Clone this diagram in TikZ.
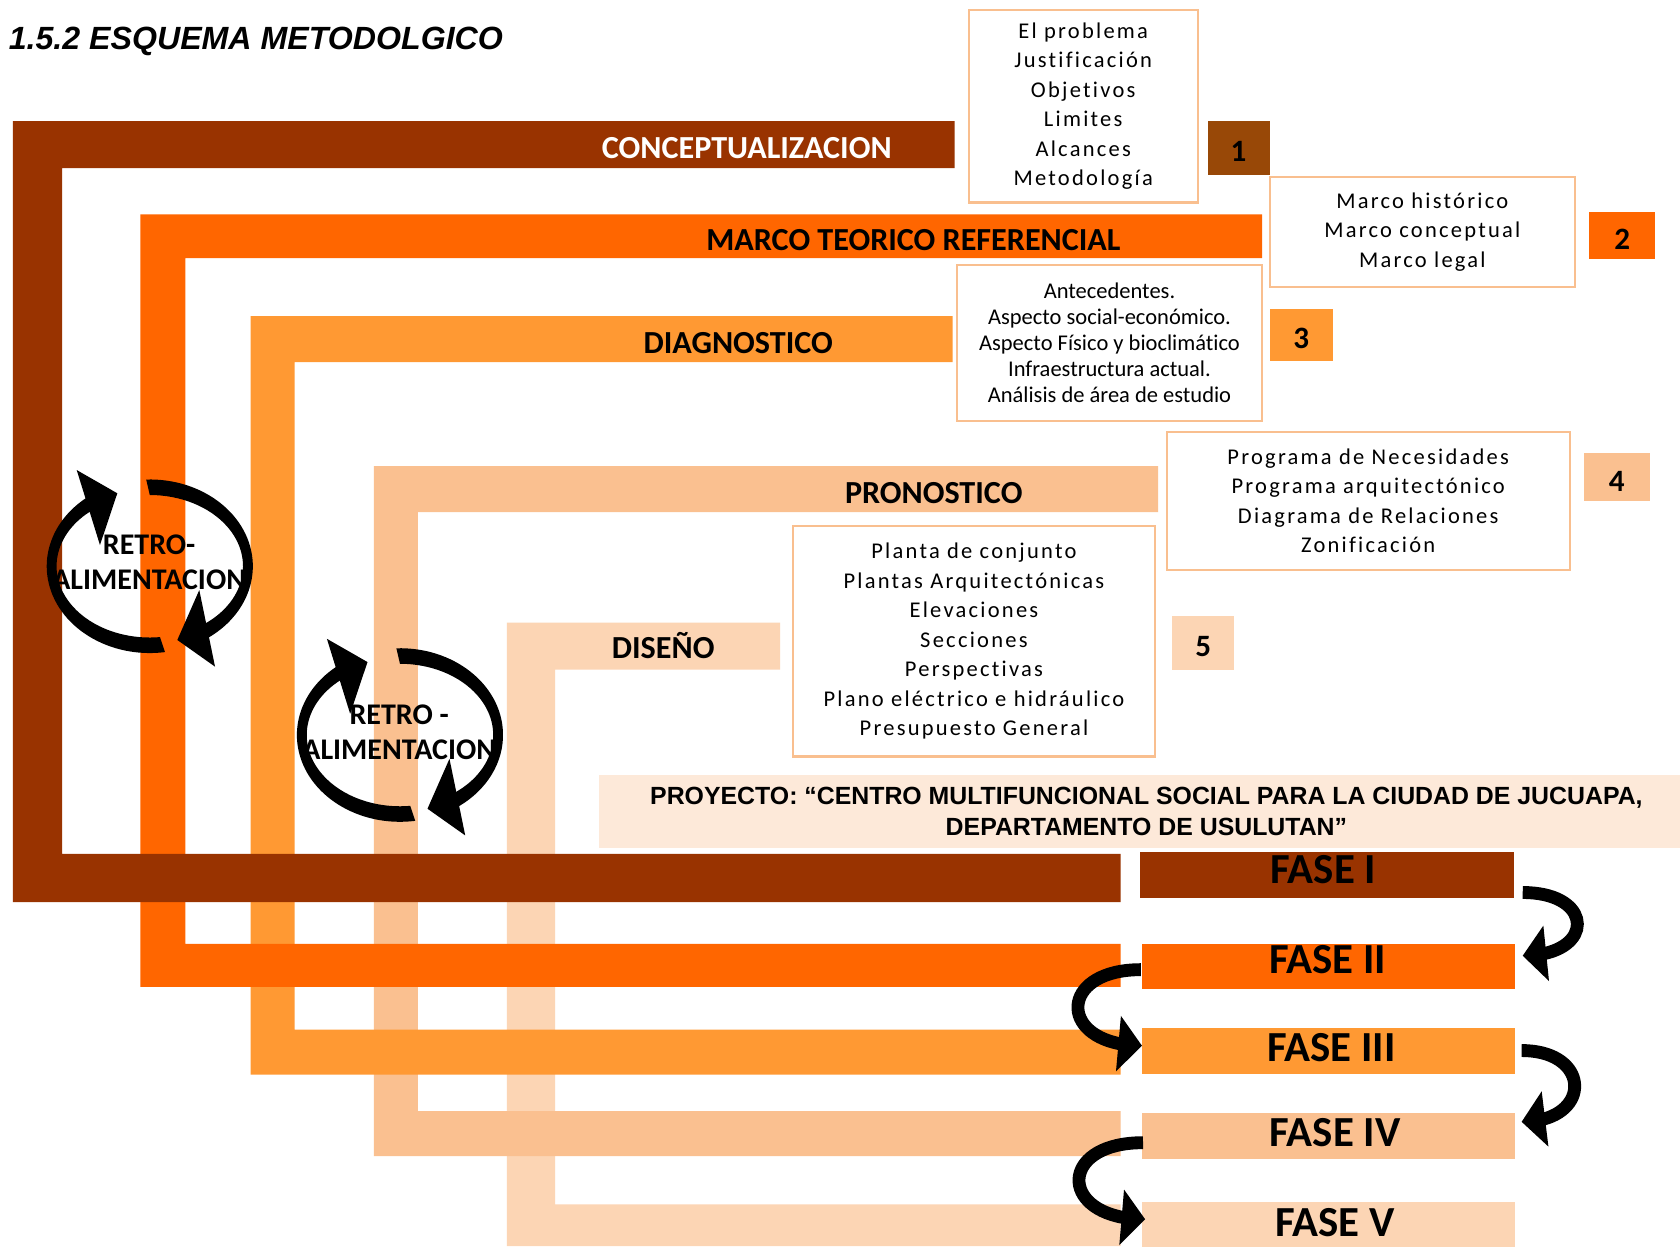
\documentclass[tikz,border=0pt]{standalone}
\usepackage{fontspec}
\setmainfont{Carlito}[Ligatures=NoCommon]
\newfontfamily\arialfont{Liberation Sans}
\newfontfamily\spacedfont[LetterSpace=10,Ligatures=NoCommon]{Carlito}
\usetikzlibrary{arrows.meta,bending,calc}
\definecolor{cBrown}{HTML}{993300}
\definecolor{cOrange}{HTML}{FF6600}
\definecolor{cLight}{HTML}{FF9933}
\definecolor{cPeach}{HTML}{FAC090}
\definecolor{cPale}{HTML}{FCD5B4}
\definecolor{cProj}{HTML}{FDE9D9}
\definecolor{cNum}{HTML}{984807}
\definecolor{cBorder}{HTML}{F9BF8F}
\begin{document}
\begin{tikzpicture}[x=1pt,y=-1pt,
  barlabel/.style={font=\bfseries\fontsize{30}{33}\selectfont, inner sep=0pt, anchor=base},
  numbox/.style={font=\bfseries\fontsize{29}{33}\selectfont, inner sep=0pt, text=black},
  listbox/.style={draw=cBorder, line width=2pt, fill=white, align=center, inner sep=0pt, font=\spacedfont\fontsize{21}{27.6}\selectfont},
  fasebox/.style={inner sep=0pt, minimum width=348pt, minimum height=42pt, font=\bfseries\fontsize{40}{42}\selectfont},
  retrotext/.style={font=\bfseries\fontsize{28}{32.6}\selectfont, align=center, inner sep=0pt},
  fasearrow/.style={line width=12pt, -{Triangle[width=52pt,length=22pt,line width=0pt,flex]}},
  retroloop/.pic={
    \fill (-3.36,-80.95) arc[start angle=92,end angle=-56,x radius=96.2pt,y radius=81pt]
       -- (48.65,55.13) arc[start angle=-56,end angle=90,x radius=87pt,y radius=66.5pt] -- cycle;
    \fill (25.7,68.8) -- (46.2,22.2) -- (60.9,93.7) -- cycle;
    \fill (14.22,80.11) arc[start angle=-81.5,end angle=-236,x radius=96.2pt,y radius=81pt]
       -- (-48.65,-55.13) arc[start angle=-236,end angle=-83.7,x radius=87pt,y radius=66.5pt] -- cycle;
    \fill (-30.3,-68.1) -- (-68.2,-89.8) -- (-46.5,-19.8) -- cycle;
  },
]
\fill[white] (0,0) rectangle (1568,1163);
\useasboundingbox (0,0) rectangle (1568,1163);

% title
\node[anchor=base west, inner sep=0pt, font=\arialfont\bfseries\itshape\fontsize{30}{36}\selectfont] (title) at (8,46) {1.5.2 ESQUEMA METODOLGICO};

% bars (inner first)
\fill[cPale] (473,581) -- (728,581) -- (728,625) -- (518,625) -- (518,1124) -- (1046,1124) -- (1046,1163) -- (473,1163) -- cycle;
\fill[cPeach] (349,435) -- (1081,435) -- (1081,478) -- (390,478) -- (390,1037) -- (1046,1037) -- (1046,1079) -- (349,1079) -- cycle;
\fill[cLight] (234,295) -- (889,295) -- (889,338) -- (275,338) -- (275,961) -- (1046,961) -- (1046,1003) -- (234,1003) -- cycle;
\fill[cOrange] (131,200) -- (1178,200) -- (1178,241) -- (173,241) -- (173,881) -- (1046,881) -- (1046,921) -- (131,921) -- cycle;
\fill[cBrown] (12,113) -- (891,113) -- (891,157) -- (58,157) -- (58,797) -- (1046,797) -- (1046,842) -- (12,842) -- cycle;

% bar labels
\node[barlabel, text=white] (lconc) at (697,148) {CONCEPTUALIZACION};
\node[barlabel] (lmarco) at (852.5,234) {MARCO TEORICO REFERENCIAL};
\node[barlabel] (ldiag) at (689,330) {DIAGNOSTICO};
\node[barlabel] (lpron) at (871.5,470) {PRONOSTICO};
\node[barlabel] (ldis) at (619,615) {DISEÑO};

% list boxes
\node[listbox, minimum width=214pt, minimum height=180pt] (bA) at (1011,99)
  {El problema\\Justificación\\Objetivos\\Limites\\Alcances\\Metodología};
\node[listbox, minimum width=285pt, minimum height=102pt] (bB) at (1327.5,216.5)
  {Marco histórico\\Marco conceptual\\Marco legal};
\node[listbox, minimum width=285pt, minimum height=146pt, font=\fontsize{21}{24.3}\selectfont] (bC) at (1035.5,320)
  {Antecedentes.\\Aspecto social-económico.\\Aspecto Físico y bioclimático\\Infraestructura actual.\\Análisis de área de estudio};
\node[listbox, minimum width=376pt, minimum height=129pt] (bD) at (1277,467.5)
  {Programa de Necesidades\\Programa arquitectónico\\Diagrama de Relaciones\\Zonificación};
\node[listbox, minimum width=338pt, minimum height=215pt] (bE) at (909,598.5)
  {Planta de conjunto\\Plantas Arquitectónicas\\Elevaciones\\Secciones\\Perspectivas\\Plano eléctrico e hidráulico\\Presupuesto General};

% number boxes
\node[numbox, fill=cNum, minimum width=58pt, minimum height=50pt] (n1) at (1156,138) {\raisebox{-4pt}[18.3pt][0pt]{1}};
\node[numbox, fill=cOrange, minimum width=62pt, minimum height=44pt] (n2) at (1514,220) {\raisebox{-4pt}[18.3pt][0pt]{2}};
\node[numbox, fill=cLight, minimum width=59pt, minimum height=49pt] (n3) at (1214.5,312.5) {\raisebox{-4pt}[18.3pt][0pt]{3}};
\node[numbox, fill=cPeach, minimum width=62pt, minimum height=45pt] (n4) at (1509,445.5) {\raisebox{-4pt}[18.3pt][0pt]{4}};
\node[numbox, fill=cPale, minimum width=58pt, minimum height=50pt] (n5) at (1123,600) {\raisebox{-4pt}[18.3pt][0pt]{5}};

% proyecto
\node[fill=cProj, minimum width=1022pt, minimum height=68pt, inner sep=0pt, align=center,
  font=\arialfont\bfseries\fontsize{23.2}{29}\selectfont] (proj) at (1070,757)
  {PROYECTO: “CENTRO MULTIFUNCIONAL SOCIAL PARA LA CIUDAD DE JUCUAPA,\\DEPARTAMENTO DE USULUTAN”};

% fases
\node[fasebox, fill=cBrown, minimum width=349pt, minimum height=43pt] (f1) at (1238.5,817) {\raisebox{5.5pt}[25.8pt][0pt]{FASE I}\hspace*{6.6pt}};
\node[fasebox, fill=cOrange] (f2) at (1240,902) {\raisebox{6pt}[25.8pt][0pt]{FASE II}\hspace*{2pt}};
\node[fasebox, fill=cLight, minimum height=43pt] (f3) at (1240,981) {\hspace*{5pt}\raisebox{3.5pt}[25.8pt][0pt]{FASE III}};
\node[fasebox, fill=cPeach, minimum height=43pt] (f4) at (1240,1060.5) {\hspace*{12pt}\raisebox{3.5pt}[25.8pt][0pt]{FASE IV}};
\node[fasebox, fill=cPale] (f5) at (1240,1142.5) {\hspace*{12pt}\raisebox{1.5pt}[25.8pt][0pt]{FASE V}};

% fase arrows
\draw[fasearrow] ($(f1.east)+(8,16)$) .. controls +(68,0) and +(68,0) .. ($(f2.east)+(7,-10)$);
\draw[fasearrow] ($(f2.west)+(-1,3)$) .. controls +(-79,0) and +(-79,0) .. ($(f3.west)+(0,-5)$);
\draw[fasearrow] ($(f3.east)+(6,-0.5)$) .. controls +(66,0) and +(66,0) .. ($(f4.east)+(6,-13.5)$);
\draw[fasearrow] ($(f4.west)+(1,6)$) .. controls +(-81,0) and +(-81,0) .. ($(f5.west)+(3,-4.5)$);

% retro-alimentacion loops
\pic (loop1) at (139.8,528.5) {retroloop};
\node[retrotext] (r1) at (139.2,524.5) {RETRO-\\ALIMENTACION};
\pic (loop2) at (373.3,686) {retroloop};
\node[retrotext] (r2) at (372.6,683.2) {RETRO -\\ALIMENTACION};
\end{tikzpicture}
\end{document}
